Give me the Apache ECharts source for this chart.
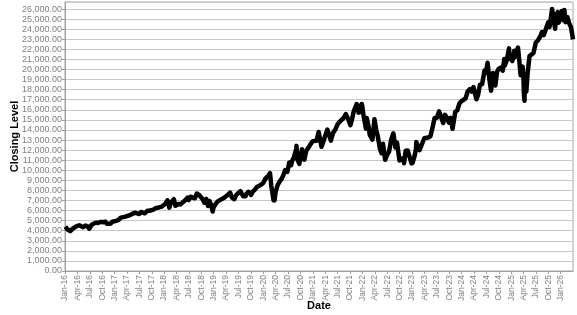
<!DOCTYPE html>
<html>
<head>
<meta charset="utf-8">
<script src="https://cdn.jsdelivr.net/npm/echarts@6/dist/echarts.min.js"></script>
<style>
html,body{margin:0;padding:0;background:#fff;}
#chart{width:577px;height:315px;}
</style>
</head>
<body>
<div id="chart"></div>
<script>
const dates = [
"2016-01-04","2016-01-08","2016-01-20","2016-01-29","2016-02-09","2016-02-19","2016-03-01","2016-03-15","2016-03-31",
"2016-04-15","2016-04-29","2016-05-13","2016-05-31","2016-06-15","2016-06-27","2016-07-15","2016-07-29","2016-08-15",
"2016-08-31","2016-09-09","2016-09-22","2016-10-07","2016-10-24","2016-11-04","2016-11-18","2016-12-01","2016-12-15","2016-12-30",
"2017-01-13","2017-01-31","2017-02-15","2017-02-28","2017-03-15","2017-03-31","2017-04-13","2017-04-28","2017-05-15","2017-05-31",
"2017-06-09","2017-06-30","2017-07-14","2017-07-27","2017-08-10","2017-08-31","2017-09-15","2017-09-29","2017-10-13","2017-10-31",
"2017-11-15","2017-11-30","2017-12-15","2017-12-29",
"2018-01-12","2018-01-26","2018-02-08","2018-02-16","2018-02-28","2018-03-12","2018-03-23","2018-04-02","2018-04-13","2018-04-30",
"2018-05-15","2018-05-31","2018-06-20","2018-06-29","2018-07-13","2018-07-27","2018-08-15","2018-08-29","2018-09-14","2018-09-28",
"2018-10-10","2018-10-24","2018-11-07","2018-11-20","2018-11-30","2018-12-14","2018-12-24","2018-12-31",
"2019-01-15","2019-01-31","2019-02-15","2019-02-28","2019-03-15","2019-03-29","2019-04-15","2019-04-30","2019-05-13","2019-05-31",
"2019-06-14","2019-06-28","2019-07-15","2019-07-26","2019-08-05","2019-08-15","2019-08-23","2019-08-30","2019-09-13","2019-09-30",
"2019-10-02","2019-10-15","2019-10-31","2019-11-15","2019-11-29","2019-12-13","2019-12-31",
"2020-01-17","2020-01-31","2020-02-10","2020-02-19","2020-02-28","2020-03-06","2020-03-16","2020-03-20","2020-03-23","2020-03-31",
"2020-04-15","2020-04-30","2020-05-15","2020-05-29","2020-06-10","2020-06-26","2020-07-10","2020-07-24","2020-07-31","2020-08-14",
"2020-08-31","2020-09-02","2020-09-08","2020-09-23","2020-10-12","2020-10-30","2020-11-13","2020-11-30","2020-12-15","2020-12-31",
"2021-01-15","2021-01-29","2021-02-12","2021-03-04","2021-03-08","2021-03-19","2021-03-31","2021-04-16","2021-04-30","2021-05-12",
"2021-05-28","2021-06-15","2021-06-30","2021-07-15","2021-07-30","2021-08-13","2021-08-31","2021-09-07","2021-09-20","2021-10-04",
"2021-10-15","2021-10-29","2021-11-19","2021-11-30","2021-12-03","2021-12-10","2021-12-20","2021-12-27","2021-12-31",
"2022-01-07","2022-01-14","2022-01-27","2022-02-02","2022-02-14","2022-02-23","2022-03-07","2022-03-14","2022-03-29","2022-04-11",
"2022-04-22","2022-04-29","2022-05-09","2022-05-20","2022-05-31","2022-06-08","2022-06-16","2022-06-30","2022-07-15","2022-07-29",
"2022-08-16","2022-08-31","2022-09-12","2022-09-30","2022-10-14","2022-10-27","2022-11-03","2022-11-15","2022-11-30","2022-12-13",
"2022-12-28","2022-12-30",
"2023-01-05","2023-01-18","2023-01-31","2023-02-02","2023-02-24","2023-03-10","2023-03-31","2023-04-14","2023-04-28","2023-05-15",
"2023-05-31","2023-06-15","2023-06-30","2023-07-18","2023-07-31","2023-08-18","2023-08-31","2023-09-15","2023-09-29","2023-10-12",
"2023-10-26","2023-11-15","2023-11-30","2023-12-15","2023-12-29",
"2024-01-12","2024-01-31","2024-02-15","2024-02-29","2024-03-15","2024-03-28","2024-04-10","2024-04-19","2024-04-30","2024-05-15",
"2024-05-31","2024-06-18","2024-06-28","2024-07-10","2024-07-24","2024-08-05","2024-08-19","2024-08-30","2024-09-06","2024-09-19",
"2024-09-30","2024-10-15","2024-10-31","2024-11-11","2024-11-15","2024-11-29","2024-12-16","2024-12-18","2024-12-31",
"2025-01-10","2025-01-24","2025-01-27","2025-01-31","2025-02-19","2025-02-28","2025-03-10","2025-03-25","2025-03-31","2025-04-04",
"2025-04-08","2025-04-09","2025-04-21","2025-04-30","2025-05-15","2025-05-30","2025-06-13","2025-06-30","2025-07-15","2025-07-31",
"2025-08-15","2025-08-29","2025-09-15","2025-09-30","2025-10-10","2025-10-29","2025-11-03","2025-11-20","2025-11-28","2025-12-10",
"2025-12-17","2025-12-31",
"2026-01-09","2026-01-20","2026-01-28","2026-02-05","2026-02-18","2026-03-02","2026-03-16","2026-03-31"
];
const closingLevels = [
4400,4230,4120,4280,3950,4140,4250,4360,4480,
4530,4340,4340,4520,4430,4200,4580,4730,4800,
4770,4690,4880,4840,4900,4700,4810,4680,4890,4860,
4980,5070,5300,5330,5370,5440,5360,5580,5700,5790,
5650,5650,5860,5930,5730,5990,5980,6060,6100,6250,
6280,6340,6390,6400,
6700,7020,6290,6700,6750,7130,6480,6380,6650,6600,
6800,6970,7280,7040,7370,7230,7220,7690,7560,7630,
7150,6780,7150,6450,6950,6510,5900,6330,
6650,6910,7040,7010,7240,7380,7580,7780,7300,7130,
7530,7670,7930,7980,7420,7560,7420,7660,7860,7750,
7550,7880,8080,8340,8400,8550,8730,
9170,9150,9510,9720,8460,8530,7020,7290,6990,7810,
8520,8890,9150,9560,10020,9850,10770,10500,10910,11300,
12110,12420,11070,10630,12090,11050,11940,12270,12600,12890,
12800,12930,13800,12330,12300,12900,13090,14040,13860,12940,
13690,14070,14550,14800,14960,15160,15580,15650,15000,14470,
15020,15850,16570,16140,15710,16400,15780,16570,16320,
15620,15600,14130,15190,14400,13490,13320,13050,15070,14000,
13400,12850,12080,11700,12640,12710,11040,11500,11860,12950,
13670,12270,12750,10970,10790,11200,10700,11940,11950,11800,
10680,10940,
10740,11300,12100,12800,11990,11830,13180,13080,13250,13370,
14250,15190,15180,15840,15760,14690,15500,15200,14720,15200,
14110,15800,15950,16620,16830,
16830,17140,17840,18040,17810,18250,18150,17040,17440,18500,
18540,19910,19680,20680,18990,17900,19650,19570,18420,19800,
20060,20180,19890,21050,20400,20930,22100,21200,21010,
20850,21850,21200,21480,22180,20880,19430,20290,19280,17400,
16900,19150,17810,19570,21330,21340,21630,22680,22880,23220,
23710,23420,24090,24680,24220,26000,25970,24050,25430,25700,
24650,25250,
25800,24900,25900,24700,25200,24600,24200,23000
];
const monthNames = ["Jan","Feb","Mar","Apr","May","Jun","Jul","Aug","Sep","Oct","Nov","Dec"];
const startYear = 2016;
const yMax = 26700;

function toMonthIndex(s){
  const [y,m,d] = s.split("-").map(Number);
  const dim = new Date(y, m, 0).getDate();
  return (y-startYear)*12 + (m-1) + (d-1)/dim;
}
const seriesData = dates.map((d,i)=>[toMonthIndex(d), closingLevels[i]]);

const chart = echarts.init(document.getElementById('chart'), null, {renderer:'canvas'});
const labelFont = '"Liberation Sans", Arial, sans-serif';
chart.setOption({
  animation:false,
  backgroundColor:'#ffffff',
  grid:{left:65, right:4, top:2, bottom:44, outerBoundsMode:'none', containLabel:false,
        show:true, borderColor:'#a8a8a8', borderWidth:1, backgroundColor:'#ffffff'},
  xAxis:{
    type:'value', min:0, max:'dataMax', interval:3,
    name:'Date', nameLocation:'middle', nameGap:29, nameMoveOverlap:false,
    nameTextStyle:{fontFamily:labelFont, fontWeight:'bold', fontSize:11, color:'#000'},
    axisLine:{show:true, lineStyle:{color:'#a0a0a0', width:1}},
    axisTick:{show:true, length:3, lineStyle:{color:'#a0a0a0'}},
    splitLine:{show:false},
    axisLabel:{
      rotate:90, margin:4, fontSize:8.5, fontFamily:labelFont, color:'#808080',
      showMaxLabel:false,
      formatter:function(v){
        const r = Math.round(v);
        if (Math.abs(v-r) > 1e-6 || r % 3 !== 0) return '';
        const yy = String((startYear + Math.floor(r/12)) % 100).padStart(2,'0');
        return monthNames[r % 12] + '-' + yy;
      }
    }
  },
  yAxis:{
    type:'value', min:0, max:yMax, interval:1000,
    name:'Closing Level', nameLocation:'middle', nameGap:45, nameRotate:90, nameMoveOverlap:false,
    nameTextStyle:{fontFamily:labelFont, fontWeight:'bold', fontSize:11, color:'#000'},
    axisLine:{show:true, lineStyle:{color:'#a0a0a0', width:1}},
    axisTick:{show:true, length:3, lineStyle:{color:'#a0a0a0'}},
    splitLine:{show:true, lineStyle:{color:'#c8c8c8', width:1}},
    axisLabel:{
      margin:3, fontSize:9, fontFamily:labelFont, color:'#808080',
      showMaxLabel:false,
      formatter:function(v){
        if (v > 26000) return '';
        return v.toLocaleString('en-US',{minimumFractionDigits:2, maximumFractionDigits:2});
      }
    }
  },
  series:[{
    type:'line', data:seriesData, showSymbol:false, symbol:'none',
    lineStyle:{color:'#000000', width:4.5, join:'round'},
    itemStyle:{color:'#000000'},
    clip:true
  }]
});
</script>
</body>
</html>
